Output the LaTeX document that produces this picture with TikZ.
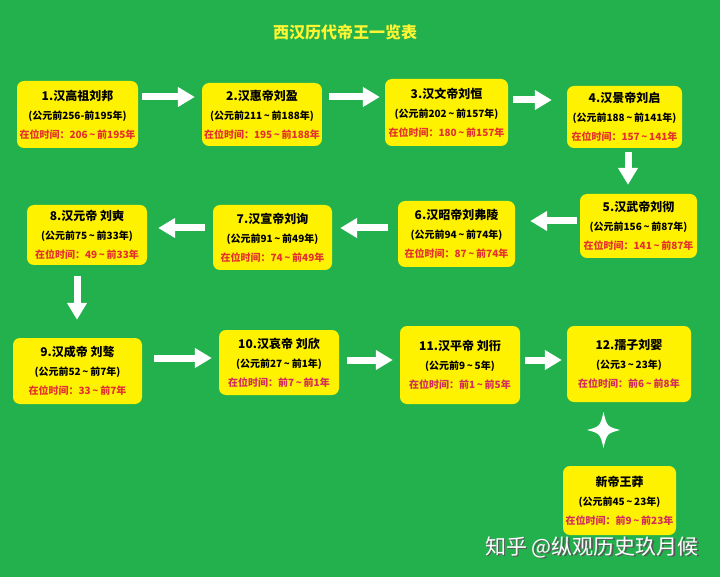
\documentclass[tikz,border=0pt]{standalone}
\usepackage{fontspec}
\setmainfont{Noto Sans CJK SC}
\usepackage{xcolor}
\usetikzlibrary{arrows.meta}
\definecolor{bggreen}{HTML}{22B14C}
\definecolor{boxyellow}{HTML}{FFF200}
\definecolor{titleyellow}{HTML}{FFF532}
\definecolor{yearred}{HTML}{E4302E}
\definecolor{yearrose}{HTML}{D22C5C}
\newcommand{\wave}{\,\textasciitilde\,}
\newcommand{\headline}[1]{{\fontsize{12}{19}\selectfont #1}}

\begin{document}
\begin{tikzpicture}[
  x=1pt,y=-1pt,
  emp/.style={rounded corners=7pt,fill=boxyellow,align=center,inner sep=2pt,
              font=\fontsize{10}{19}\selectfont\bfseries},
  arr/.style={draw=white,line width=7pt,-{Triangle[length=17pt,width=19pt]}}]
  \fill[bggreen] (0,0) rectangle (720,577);
  \useasboundingbox (0,0) rectangle (720,577);
  \node[font=\fontsize{16}{16}\selectfont\bfseries,text=titleyellow] (title) at (345,32) {西汉历代帝王一览表};
  % row 1
  \node[emp,minimum width=121pt,minimum height=67pt] (b1) at (77.5,114.5)
    {\headline{1.汉高祖刘邦}\\(公元前256-前195年)\\\textcolor{yearred}{在位时间：206\wave 前195年}};
  \node[emp,minimum width=116pt,minimum height=63pt] (b2) at (262,114.5)
    {\headline{2.汉惠帝刘盈}\\(公元前211\wave 前188年)\\\textcolor{yearred}{在位时间：195\wave 前188年}};
  \node[emp,minimum width=123pt,minimum height=67pt] (b3) at (446.5,112.5)
    {\headline{3.汉文帝刘恒}\\(公元前202\wave 前157年)\\\textcolor{yearred}{在位时间：180\wave 前157年}};
  \node[emp,minimum width=115pt,minimum height=62pt] (b4) at (624.5,117)
    {\headline{4.汉景帝刘启}\\(公元前188\wave 前141年)\\\textcolor{yearred}{在位时间：157\wave 141年}};
  % row 2
  \node[emp,minimum width=117pt,minimum height=64pt] (b5) at (638.5,226)
    {\headline{5.汉武帝刘彻}\\(公元前156\wave 前87年)\\\textcolor{yearred}{在位时间：141\wave 前87年}};
  \node[emp,minimum width=117pt,minimum height=66pt] (b6) at (456.5,234)
    {\headline{6.汉昭帝刘弗陵}\\(公元前94\wave 前74年)\\\textcolor{yearred}{在位时间：87\wave 前74年}};
  \node[emp,minimum width=119pt,minimum height=65pt] (b7) at (272.5,237.5)
    {\headline{7.汉宣帝刘询}\\(公元前91\wave 前49年)\\\textcolor{yearred}{在位时间：74\wave 前49年}};
  \node[emp,minimum width=120pt,minimum height=60pt] (b8) at (87,235)
    {\headline{8.汉元帝 刘奭}\\(公元前75\wave 前33年)\\\textcolor{yearred}{在位时间：49\wave 前33年}};
  % row 3
  \node[emp,minimum width=129pt,minimum height=66pt] (b9) at (77.5,371)
    {\headline{9.汉成帝 刘骜}\\(公元前52\wave 前7年)\\\textcolor{yearred}{在位时间：33\wave 前7年}};
  \node[emp,minimum width=120pt,minimum height=65pt] (b10) at (279,362.5)
    {\headline{10.汉哀帝 刘欣}\\(公元前27\wave 前1年)\\\textcolor{yearrose}{在位时间：前7\wave 前1年}};
  \node[emp,minimum width=120pt,minimum height=78pt] (b11) at (460,365)
    {\headline{11.汉平帝 刘衎}\\(公元前9\wave 5年)\\\textcolor{yearrose}{在位时间：前1\wave 前5年}};
  \node[emp,minimum width=124pt,minimum height=76pt] (b12) at (629,364)
    {\headline{12.孺子刘婴}\\(公元3\wave 23年)\\\textcolor{yearrose}{在位时间：前6\wave 前8年}};
  \node[emp,minimum width=113pt,minimum height=69pt] (b13) at (619.5,500.5)
    {\headline{新帝王莽}\\(公元前45\wave 23年)\\\textcolor{yearrose}{在位时间：前9\wave 前23年}};
  \foreach \a/\b/\dy/\s/\t in {b1.east/b2.west/17.5/4/7,b2.east/b3.west/17.5/7/5,
      b3.east/b4.west/12.5/5/15,b5.west/b6.east/5/3/15,b6.west/b7.east/6/10/8,
      b7.west/b8.east/9.5/8/11,b9.east/b10.west/13/12/7,b10.east/b11.west/2.5/8/7,
      b11.east/b12.west/5/5/5}
    \draw[arr,shorten <=\s pt,shorten >=\t pt] ([yshift=\dy pt]\a) coordinate (s) -- (s -| \b);
  \foreach \a/\b/\dx/\s/\t in {b4/b5/3.5/4/9,b8/b9/-10/11/18}
    \draw[arr,shorten <=\s pt,shorten >=\t pt] ([xshift=\dx pt]\a.south) coordinate (s) -- (s |- \b.north);
  \fill[white,shift={(603.5,430)}] (0,-18) .. controls (3.5,-3.5) .. (16.5,0)
    .. controls (3.5,3.5) .. (0,18) .. controls (-3.5,3.5) .. (-16.5,0)
    .. controls (-3.5,-3.5) .. (0,-18) -- cycle;
  \node[font=\fontsize{21}{21}\selectfont,text=black!65] (markshadow) at (593.5,548.5) {知乎 @纵观历史玖月候};
  \node[font=\fontsize{21}{21}\selectfont,text=white] (mark) at (592,547) {知乎 @纵观历史玖月候};
\end{tikzpicture}
\end{document}
